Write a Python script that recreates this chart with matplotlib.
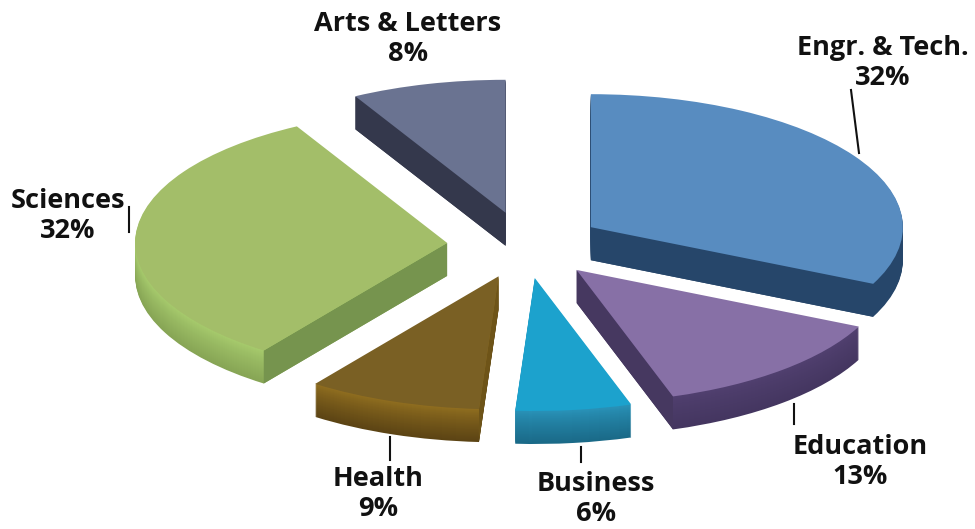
import numpy as np
import matplotlib

matplotlib.use("Agg")
import matplotlib.pyplot as plt
from matplotlib.colors import to_rgb

categories = ["Engr. & Tech.", "Education", "Business", "Health", "Sciences", "Arts & Letters"]
shares = [32, 13, 6, 9, 32, 8]

top_colors = ["#588cc0", "#8770a6", "#1ca2cd", "#7a6024", "#a3be69", "#6a7391"]
rim_top = ["#26466a", "#514070", "#2a94ba", "#927020", "#a8cc6e", "#34384c"]
rim_bottom = ["#26466a", "#443660", "#1a6a88", "#5c4414", "#87a555", "#34384c"]
wall_colors = ["#26466a", "#463860", "#1f7c9e", "#6e5418", "#76944e", "#34384c"]

W, H = 975, 529
CX, CY = 525, 245
RX, RY = 312, 133
DEPTH_PX = 33
EXPLODE = 0.25


def px_x(x):
    return x / W


def px_y(y):
    return 1 - y / H


def blend(a, b, t):
    a, b = np.array(to_rgb(a)), np.array(to_rgb(b))
    return tuple(a + (b - a) * t)


def draw_pie(ax, colors, offset=0.0):
    wedges, _ = ax.pie(
        shares,
        explode=[EXPLODE] * len(shares),
        colors=colors,
        startangle=90,
        counterclock=False,
        center=(0, -offset),
        radius=1,
        wedgeprops={"linewidth": 0},
    )
    return wedges


def draw_walls(ax, wedges, depth):
    for wedge, color in zip(wedges, wall_colors):
        cx, cy = wedge.center
        mid = np.deg2rad((wedge.theta1 + wedge.theta2) / 2)
        for theta in (wedge.theta1, wedge.theta2):
            a = np.deg2rad(theta)
            cross = np.cos(a) * np.sin(mid) - np.sin(a) * np.cos(mid)
            # only the walls that face the viewer
            if cross * np.cos(a) <= 0:
                continue
            ex, ey = cx + np.cos(a), cy + np.sin(a)
            ax.fill(
                [cx, ex, ex, cx],
                [cy, ey, ey - depth, cy - depth],
                color=color,
                linewidth=0,
                zorder=5,
            )


def main():
    fig = plt.figure(figsize=(W / 100, H / 100), dpi=100)
    ax = fig.add_axes([0, 0, 1, 1])

    depth = DEPTH_PX / RY
    # side of the pie: stacked copies shifted down, dark at the bottom
    for k in range(DEPTH_PX, 0, -1):
        t = (k / DEPTH_PX) ** 0.8
        layer = [blend(a, b, t) for a, b in zip(rim_top, rim_bottom)]
        draw_pie(ax, layer, offset=k / RY)

    wedges = draw_pie(ax, top_colors)
    draw_walls(ax, wedges, depth)
    for wedge in wedges:
        wedge.set_zorder(6)

    ax.set_aspect("auto")
    ax.set_xlim(-CX / RX, (W - CX) / RX)
    ax.set_ylim(-(H - CY) / RY, CY / RY)
    ax.axis("off")

    # label positions
    label_xy = [(883, 63), (860, 462), (596, 499), (378, 494), (68, 216), (408, 39)]
    for name, share, (x, y) in zip(categories, shares, label_xy):
        fig.text(
            px_x(x),
            px_y(y),
            f"{name}\n{share}%",
            ha="center",
            va="center",
            fontsize=19.5,
            fontweight="bold",
            family="Open Sans",
            color="#111111",
            linespacing=1.2,
        )

    # leader lines
    leaders = [
        ((851, 859), (90, 153)),
        ((794, 794), (404, 424)),
        ((581, 581), (447, 462)),
        ((390, 390), (437, 460)),
        ((129, 129), (207, 232)),
    ]
    for xs, ys in leaders:
        fig.add_artist(
            plt.Line2D(
                [px_x(v) for v in xs],
                [px_y(v) for v in ys],
                color="#111111",
                linewidth=1.5,
            )
        )

    fig.savefig("out.png", dpi=100)


if __name__ == "__main__":
    main()
